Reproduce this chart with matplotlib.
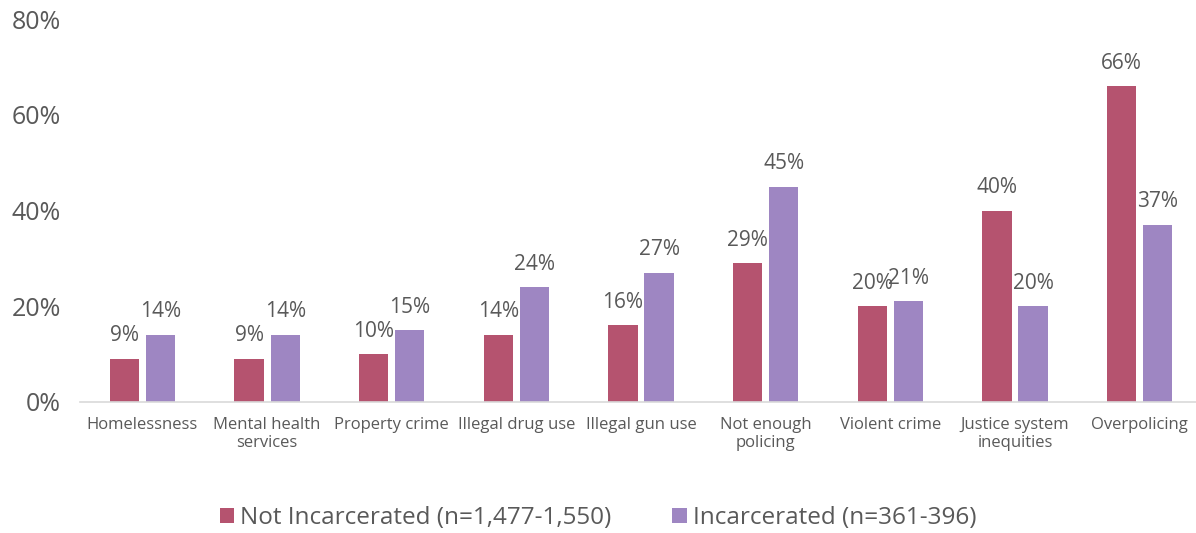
import matplotlib
matplotlib.use('Agg')
import matplotlib.pyplot as plt
import numpy as np

# data
categories = ['Homelessness', 'Mental health\nservices', 'Property crime', 'Illegal drug use',
              'Illegal gun use', 'Not enough\npolicing', 'Violent crime', 'Justice system\ninequities',
              'Overpolicing']
not_incarcerated = [9, 9, 10, 14, 16, 29, 20, 40, 66]
incarcerated = [14, 14, 15, 24, 27, 45, 21, 20, 37]
series_names = ['Not Incarcerated (n=1,477-1,550)', 'Incarcerated (n=361-396)']

red = '#B5536F'
purple = '#9E86C2'
text_gray = '#595959'

plt.rcParams['font.family'] = ['Open Sans', 'DejaVu Sans']

fig = plt.figure(figsize=(11.96, 5.33), dpi=100)
ax = fig.add_axes([0.067, 0.246, 0.938, 0.718])

x = np.arange(len(categories))
w = 0.235
b1 = ax.bar(x - 0.145, not_incarcerated, w, color=red, label=series_names[0])
b2 = ax.bar(x + 0.145, incarcerated, w, color=purple, label=series_names[1])

for bars, vals in ((b1, not_incarcerated), (b2, incarcerated)):
    for rect, v in zip(bars, vals):
        ax.annotate(f'{v}%', (rect.get_x() + rect.get_width() / 2, v),
                    xytext=(0, 9), textcoords='offset points',
                    ha='center', va='bottom', fontsize=15, color=text_gray)

ax.set_ylim(0, 80)
ax.set_xlim(-0.5, len(categories) - 0.5)
ax.set_yticks([0, 20, 40, 60, 80])
ax.set_yticklabels([f'{t}%' for t in [0, 20, 40, 60, 80]])
ax.tick_params(axis='y', length=0, labelsize=18, colors=text_gray, pad=14)
ax.set_xticks(x)
ax.set_xticklabels(categories, fontsize=12, linespacing=1.15)
ax.tick_params(axis='x', length=0, colors=text_gray, pad=11)

for s in ['top', 'right', 'left']:
    ax.spines[s].set_visible(False)
ax.spines['bottom'].set_color('#D9D9D9')
ax.spines['bottom'].set_linewidth(1.2)

fig.legend(handles=[b1, b2], loc='center', bbox_to_anchor=(0.5, 0.028), ncol=2,
           frameon=False, fontsize=17.5, labelcolor=text_gray,
           handlelength=0.6, handleheight=0.6, handletextpad=0.25, columnspacing=2.5)

plt.savefig('out.png', dpi=100)
